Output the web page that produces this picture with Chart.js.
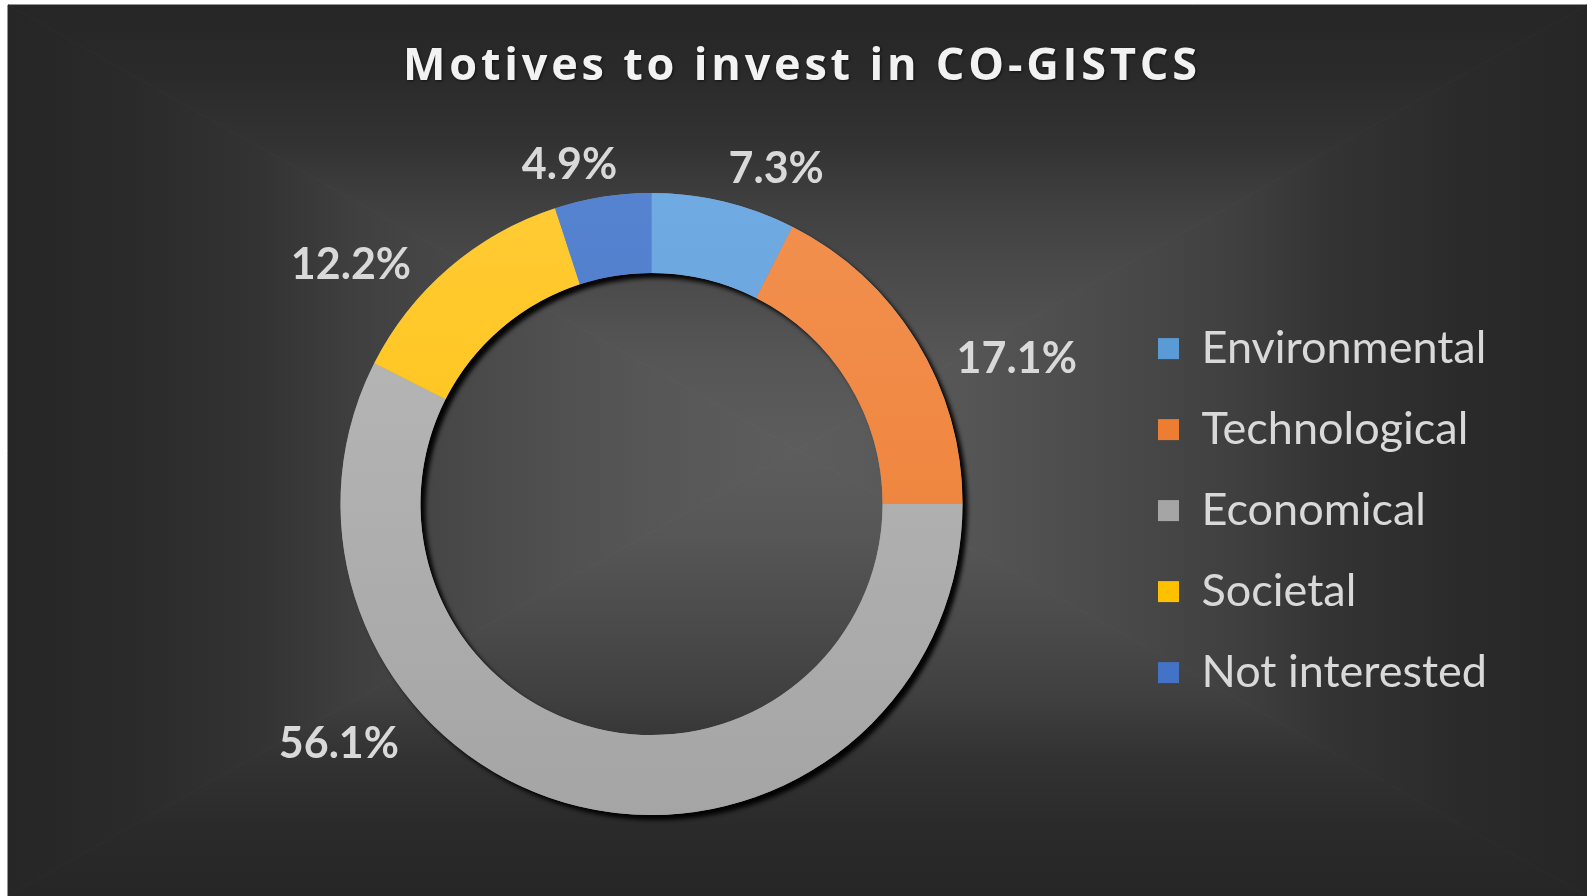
<!DOCTYPE html>
<html>
<head>
<meta charset="utf-8">
<title>Motives to invest in CO-GISTCS</title>
<script src="https://cdn.jsdelivr.net/npm/chart.js@4.4.1/dist/chart.umd.min.js"></script>
<style>
  html, body { margin: 0; padding: 0; background: #fff; }
  #wrap { width: 1587px; height: 896px; position: relative; }
</style>
</head>
<body>
<div id="wrap"><canvas id="motives"></canvas></div>
<script>
// survey answers, share of respondents in %
const categories = ['Environmental', 'Technological', 'Economical', 'Societal', 'Not interested'];
const shares = [7.3, 17.1, 56.1, 12.2, 4.9];
const chartTitle = 'Motives to invest in CO-GISTCS';

// office palette, plus a lighter tint for the top of each slice
const sliceColors = ['#5B9BD5', '#ED7D31', '#A5A5A5', '#FFC000', '#4472C4'];
const sliceTops = ['#70AAE2', '#F2904F', '#BABABA', '#FFCB35', '#5683D0'];

// where each percentage sits: degrees clockwise from 12 o'clock, distance in outer radii
const labelSpots = [[20.4, 1.15], [68.3, 1.264], [232.5, 1.267], [308.5, 1.235], [346.4, 1.122]];

function sliceFill(context) {
  const i = context.dataIndex || 0;
  const area = context.chart.chartArea;
  if (!area) return sliceColors[i];
  const g = context.chart.ctx.createLinearGradient(0, area.top, 0, area.bottom);
  g.addColorStop(0, sliceTops[i]);
  g.addColorStop(1, sliceColors[i]);
  return g;
}

// dark panel with a rectangular "from centre" gradient
const backdrop = {
  id: 'backdrop',
  beforeDraw(chart) {
    const ctx = chart.ctx, W = chart.width, H = chart.height;
    const x0 = 8, y0 = 5, x1 = W, y1 = H;
    const cx = 797, cy = 450;
    const stops = [[0, '#5d5d5d'], [0.2, '#565656'], [0.4, '#4a4a4a'], [0.55, '#404040'],
                   [0.68, '#333333'], [0.85, '#2a2a2a'], [1, '#262626']];
    ctx.save();
    ctx.fillStyle = '#fff';
    ctx.fillRect(0, 0, W, H);
    const parts = [
      [[x0, y0], [x1, y0], cx, y0],
      [[x1, y0], [x1, y1], x1, cy],
      [[x1, y1], [x0, y1], cx, y1],
      [[x0, y1], [x0, y0], x0, cy]
    ];
    parts.forEach(([a, b, ex, ey]) => {
      const g = ctx.createLinearGradient(cx, cy, ex, ey);
      stops.forEach(s => g.addColorStop(s[0], s[1]));
      ctx.fillStyle = g;
      ctx.strokeStyle = g;
      ctx.lineWidth = 1;
      ctx.beginPath();
      ctx.moveTo(cx, cy);
      ctx.lineTo(a[0], a[1]);
      ctx.lineTo(b[0], b[1]);
      ctx.closePath();
      ctx.fill();
      ctx.stroke();
    });
    ctx.restore();
  }
};

// hard drop shadow under the whole ring
const ringShadow = {
  id: 'ringShadow',
  beforeDatasetsDraw(chart) {
    const arc = chart.getDatasetMeta(0).data[0];
    if (!arc) return;
    const {x, y, innerRadius, outerRadius} = arc.getProps(['x', 'y', 'innerRadius', 'outerRadius'], true);
    const ctx = chart.ctx;
    ctx.save();
    ctx.shadowColor = 'rgba(0,0,0,0.95)';
    ctx.shadowBlur = 4;
    ctx.shadowOffsetX = 5;
    ctx.shadowOffsetY = 5;
    ctx.fillStyle = '#8a8a8a';
    ctx.beginPath();
    ctx.arc(x, y, outerRadius, 0, Math.PI * 2);
    ctx.arc(x, y, innerRadius, 0, Math.PI * 2, true);
    ctx.fill();
    ctx.restore();
  }
};

const pctLabels = {
  id: 'pctLabels',
  afterDatasetsDraw(chart) {
    const ctx = chart.ctx;
    ctx.save();
    ctx.font = 'bold 43px Lato';
    ctx.fillStyle = '#D9D9D9';
    ctx.textAlign = 'center';
    ctx.textBaseline = 'middle';
    chart.getDatasetMeta(0).data.forEach((arc, i) => {
      const {x, y, outerRadius} = arc.getProps(['x', 'y', 'outerRadius'], true);
      const a = labelSpots[i][0] * Math.PI / 180;
      const r = outerRadius * labelSpots[i][1];
      ctx.fillText(shares[i].toFixed(1) + '%', x + Math.sin(a) * r, y - Math.cos(a) * r);
    });
    ctx.restore();
  }
};

// spaced-out bold title
const titleText = {
  id: 'titleText',
  afterDraw(chart) {
    const ctx = chart.ctx;
    const target = 794;
    ctx.save();
    ctx.font = 'bold 45px "Open Sans"';
    const plain = ctx.measureText(chartTitle).width;
    const gap = (target - plain) / (chartTitle.length - 1);
    ctx.letterSpacing = gap + 'px';
    ctx.fillStyle = '#F2F2F2';
    ctx.textAlign = 'left';
    ctx.textBaseline = 'middle';
    ctx.shadowColor = 'rgba(0,0,0,0.6)';
    ctx.shadowBlur = 3;
    ctx.shadowOffsetX = 1;
    ctx.shadowOffsetY = 1;
    ctx.fillText(chartTitle, 800 - target / 2, 67);
    ctx.restore();
  }
};

const defaultLabels = Chart.overrides.doughnut.plugins.legend.labels.generateLabels;

new Chart(document.getElementById('motives'), {
  type: 'doughnut',
  data: {
    labels: categories,
    datasets: [{
      data: shares,
      backgroundColor: sliceFill,
      borderWidth: 0
    }]
  },
  options: {
    responsive: true,
    maintainAspectRatio: false,
    animation: false,
    cutout: '74.3%',
    layout: { padding: { top: 193, bottom: 81, left: 181, right: 90 } },
    plugins: {
      legend: {
        position: 'right',
        // empty title only nudges the entries down a little
        title: { display: true, text: '', font: { size: 1 }, padding: { top: 6, bottom: 6 } },
        labels: {
          font: { family: 'Lato', size: 45 },
          color: '#D9D9D9',
          boxWidth: 21,
          boxHeight: 21,
          padding: 36,
          generateLabels(chart) {
            return defaultLabels(chart).map((item, i) => {
              item.fillStyle = sliceColors[i];
              item.strokeStyle = sliceColors[i];
              item.lineWidth = 0;
              return item;
            });
          }
        }
      },
      tooltip: { enabled: false }
    }
  },
  plugins: [backdrop, ringShadow, pctLabels, titleText]
});
</script>
</body>
</html>
